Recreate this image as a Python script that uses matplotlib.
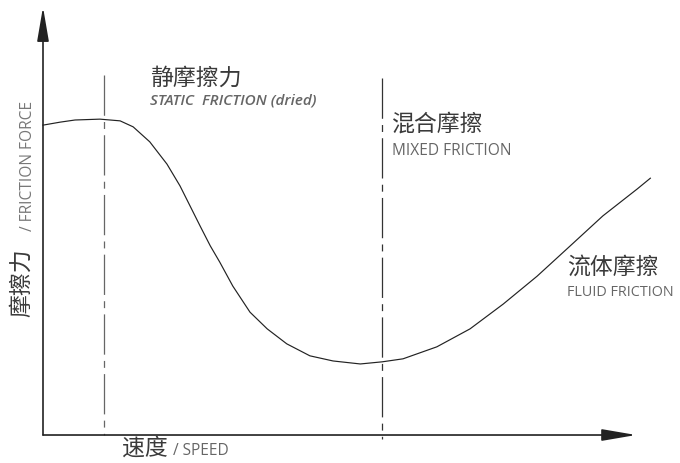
import matplotlib
matplotlib.use("Agg")
from matplotlib import pyplot as plt

# curve: speed (0..100 = arrow tip) vs friction force (0..100 = arrow tip)
speed = [0, 2.9, 5.4, 9.6, 13.0, 15.2, 18.0, 20.9, 23.1, 24.8, 26.5, 28.2, 29.8, 32.0,
         34.9, 37.8, 41.1, 45.0, 48.9, 53.5, 57.2, 60.7, 66.4, 72.0, 77.6, 83.3, 88.9,
         94.4, 100.2, 102.4]
friction = [72.4, 73.1, 73.6, 73.8, 73.4, 72.0, 68.5, 63.3, 58.2, 53.5, 48.8, 44.2, 40.4, 34.8,
            28.7, 24.8, 21.3, 18.5, 17.3, 16.6, 17.1, 17.8, 20.6, 24.8, 30.6, 37.1, 44.2,
            51.2, 57.5, 60.0]

# regime boundaries (speed) and how high their dash-dot markers reach
bound_speed = [10.3, 57.2]
bound_top = [84.1, 83.4]
bound_bottom = [0, -0.9]
bound_color = ["#666666", "#333333"]

zones_cn = ["静摩擦力", "混合摩擦", "流体摩擦"]
zones_en = ["STATIC  FRICTION (dried)", "MIXED FRICTION", "FLUID FRICTION"]
zone_x = [18.0, 58.9, 88.4]
zone_cn_y = [83.4, 72.7, 39.3]
zone_en_y = [78.3, 66.6, 33.6]

xlabel_cn, xlabel_en = "速度", "/ SPEED"
ylabel_cn, ylabel_en = "摩擦力", "/ FRICTION FORCE"

plt.rcParams['font.family'] = ['Open Sans', 'Noto Sans CJK SC', 'DejaVu Sans']
plt.rcParams['lines.scale_dashes'] = False

fig = plt.figure(figsize=(6.8, 4.64), dpi=100)
ax = fig.add_axes([0, 0, 1, 1])
ax.set_xlim(-7.25, 107.4)
ax.set_ylim(-6.54, 101.87)
ax.axis('off')

# axes with arrow heads
arr = dict(arrowstyle='-|>,head_length=2.1,head_width=0.36', color='#222222',
           lw=1.2, mutation_scale=10, shrinkA=0, shrinkB=0)
ax.annotate('', xy=(100, 0), xytext=(0, 0), arrowprops=arr)
ax.annotate('', xy=(0, 100), xytext=(0, 0), arrowprops=arr)

for xs, top, bot, c in zip(bound_speed, bound_top, bound_bottom, bound_color):
    ax.plot([xs, xs], [top, bot], color=c, lw=0.9, linestyle=(0, (29, 4.5, 5, 4.5)))

ax.plot(speed, friction, color='#222222', lw=0.85, solid_joinstyle='round')

cn_kw = dict(fontsize=16.5, color='#3a3a3a', fontweight='light')

for x, yc, ye, cn, en in zip(zone_x, zone_cn_y, zone_en_y, zones_cn, zones_en):
    ax.text(x, yc, cn, va='center', ha='left', **cn_kw)
    if en.startswith('STATIC'):
        ax.text(x, ye, en, va='center', ha='left', style='italic',
                fontweight='semibold', fontsize=11.0, color='#666666')
    elif en.startswith('FLUID'):
        # squeezed a little so it stays inside the right edge
        ax.text(x, ye, en, va='center', ha='left', fontsize=10.4, color='#666666')
    else:
        ax.text(x, ye, en, va='center', ha='left', fontsize=11.2, color='#666666')

ax.text(13.3, -3.0, xlabel_cn, va='center', ha='left', **cn_kw)
ax.text(21.9, -3.6, xlabel_en, va='center', ha='left', fontsize=11.2, color='#666666')

ax.text(-3.5, 27.8, ylabel_cn, va='bottom', ha='center', rotation=90, **cn_kw)
ax.text(-2.6, 47.9, ylabel_en, va='bottom', ha='center', rotation=90,
        fontsize=11.2, color='#777777')

fig.savefig('out.png', dpi=100)
